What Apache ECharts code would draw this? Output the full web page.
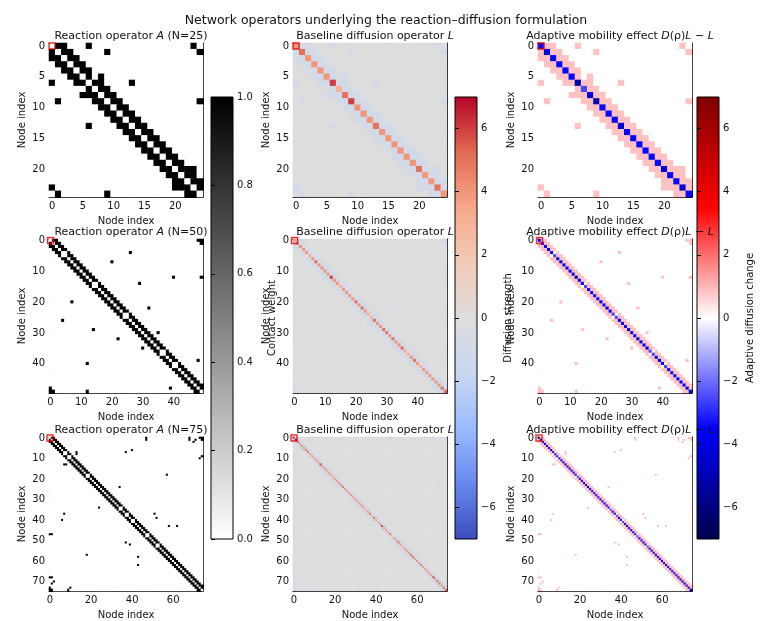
<!DOCTYPE html>
<html lang="en">
<head>
<meta charset="UTF-8">
<title>Network operators</title>
<script src="https://cdn.jsdelivr.net/npm/echarts@6/dist/echarts.min.js"></script>
<style>html,body{margin:0;padding:0;background:#fff}</style>
</head>
<body>
<div id="main" style="width:761px;height:621px;"></div>
<script>
// ---- data ----
const sizes = [25, 50, 75];
const ringOffsets = [1, 2];              // ring lattice neighbours
const extraEdges25 = [[0, 6], [1, 9], [9, 24], [6, 13], [5, 8], [20, 23]];
const removedEdges25 = [[0, 24], [5, 7]];
const extraEdges50 = [[4, 26], [7, 20], [14, 29], [12, 40], [12, 49], [22, 32], [30, 35], [39, 48]];
const removedEdges50 = [[4, 5], [14, 15], [24, 25], [36, 37], [40, 41]];
const extraEdges75 = [[0, 47], [0, 68], [1, 71], [7, 37], [6, 40], [7, 13], [9, 74], [8, 13], [18, 57],
    [24, 34], [37, 51], [39, 52], [43, 58], [1, 47], [43, 62], [1, 68], [2, 70], [10, 73]];
const removedEdges75 = [[7, 8], [9, 10], [18, 19], [34, 35], [37, 38], [40, 41], [47, 48], [52, 53]];
const mobilityDrop = 0.85;               // D(rho)-1 ~ -0.85
const grayTicks = [0, 0.2, 0.4, 0.6, 0.8, 1.0];
const diffTicks = [-6, -4, -2, 0, 2, 4, 6];
const colorMax = 7;

const extras = [extraEdges25, extraEdges50, extraEdges75];
const removed = [removedEdges25, removedEdges50, removedEdges75];

// colormaps
const grayCmap = ['#ffffff', '#000000'];
const coolwarm = ['#3b4cc0', '#6788ee', '#9abbff', '#c9d7f0', '#dddddd', '#f2cbb7', '#f7a889', '#e26952', '#b40426'];
const seismic = ['#00004c', '#0000ff', '#ffffff', '#ff0000', '#7f0000'];

function buildAdj(k) {
    const n = sizes[k];
    const A = [];
    for (let i = 0; i < n; i++) A.push(new Array(n).fill(0));
    const set = (i, j, v) => { A[i][j] = v; A[j][i] = v; };
    for (let i = 0; i < n; i++) ringOffsets.forEach(o => set(i, (i + o) % n, 1));
    removed[k].forEach(e => set(e[0], e[1], 0));
    extras[k].forEach(e => set(e[0], e[1], 1));
    return A;
}

const colLeft = [49, 293, 538], rowTop = [43, 239, 437], side = 154;
const font = 'DejaVu Sans';
const grids = [], xAxes = [], yAxes = [], series = [], titles = [];
const seriesGray = [], seriesCool = [], seriesSeis = [];
const markers = [];

function italic(s) { return '{i|' + s + '}'; }
const titleRich = {
    n: {fontFamily: font, fontSize: 11, color: '#111', fontWeight: 'normal'},
    i: {fontFamily: font, fontSize: 11, color: '#111', fontWeight: 'normal', fontStyle: 'italic'}
};

sizes.forEach((n, r) => {
    const A = buildAdj(r);
    const deg = A.map(row => row.reduce((s, v) => s + v, 0));
    const cats = [];
    for (let i = 0; i < n; i++) cats.push(String(i));
    const xStep = n === 25 ? 5 : (n === 50 ? 10 : 20);
    const yStep = n === 25 ? 5 : 10;
    const mats = [
        (i, j) => A[i][j],
        (i, j) => (i === j ? deg[i] : -A[i][j]),
        (i, j) => -mobilityDrop * (i === j ? deg[i] : -A[i][j])
    ];
    const names = [
        '{n|Reaction operator }' + italic('A') + '{n| (N=' + n + ')}',
        '{n|Baseline diffusion operator }' + italic('L'),
        '{n|Adaptive mobility effect }' + italic('D') + '{n|(ρ)}' + italic('L') + '{n| − }' + italic('L')
    ];
    for (let c = 0; c < 3; c++) {
        const g = grids.length;
        grids.push({left: colLeft[c], top: rowTop[r], width: side, height: side});
        titles.push({
            text: names[c], left: colLeft[c] + side / 2, top: rowTop[r] - 17, textAlign: 'center',
            textStyle: {fontWeight: 'normal', rich: titleRich}
        });
        const axisCommon = {
            type: 'category', data: cats, gridIndex: g,
            axisLine: {lineStyle: {color: '#000', width: 1}},
            splitLine: {show: false}
        };
        xAxes.push(Object.assign({}, axisCommon, {
            position: 'bottom',
            name: 'Node index', nameLocation: 'middle', nameGap: 19,
            nameTextStyle: {fontFamily: font, fontSize: 10, color: '#111'},
            axisTick: {alignWithLabel: true, length: 3, interval: i => i % xStep === 0, lineStyle: {color: '#000'}},
            axisLabel: {interval: i => i % xStep === 0, fontFamily: font, fontSize: 10, color: '#111', margin: 4}
        }));
        xAxes.push(Object.assign({}, axisCommon, {
            position: 'top', axisTick: {show: false}, axisLabel: {show: false}
        }));
        yAxes.push(Object.assign({}, axisCommon, {
            position: 'left', inverse: true,
            name: 'Node index', nameLocation: 'middle', nameGap: 22,
            nameTextStyle: {fontFamily: font, fontSize: 10, color: '#111'},
            axisTick: {alignWithLabel: true, length: 3, interval: i => i % yStep === 0, lineStyle: {color: '#000'}},
            axisLabel: {interval: i => i % yStep === 0, fontFamily: font, fontSize: 10, color: '#111', margin: 4}
        }));
        yAxes.push(Object.assign({}, axisCommon, {
            position: 'right', inverse: true, axisTick: {show: false}, axisLabel: {show: false}
        }));
        const data = [];
        for (let i = 0; i < n; i++)
            for (let j = 0; j < n; j++) data.push([j, i, mats[c](i, j)]);
        [seriesGray, seriesCool, seriesSeis][c].push(series.length);
        series.push({
            type: 'heatmap', xAxisIndex: 2 * g, yAxisIndex: 2 * g, data: data,
            progressive: 0, silent: true
        });
        markers.push({
            type: 'scatter', xAxisIndex: 2 * g, yAxisIndex: 2 * g, data: [[0, 0]],
            symbol: 'rect', symbolSize: 6, silent: true, z: 5,
            itemStyle: {color: 'rgba(0,0,0,0)', borderColor: '#e00000', borderWidth: 1.5}
        });
    }
});

// colorbars
const barLeft = [211, 455, 697];
const barSpecs = [
    {cmap: grayCmap, min: 0, max: 1, ticks: grayTicks, name: 'Contact weight', fmt: v => v.toFixed(1)},
    {cmap: coolwarm, min: -colorMax, max: colorMax, ticks: diffTicks, name: 'Diffusion strength', fmt: v => String(v).replace('-', '−')},
    {cmap: seismic, min: -colorMax, max: colorMax, ticks: diffTicks, name: 'Adaptive diffusion change', fmt: v => String(v).replace('-', '−')}
];
barSpecs.forEach((b, k) => {
    const g = grids.length;
    const stops = b.cmap.map((col, i) => ({offset: 1 - i / (b.cmap.length - 1), color: col}));
    grids.push({
        left: barLeft[k], top: 97, width: 22, height: 442, show: true,
        borderColor: '#000', borderWidth: 1,
        backgroundColor: new echarts.graphic.LinearGradient(0, 0, 0, 1, stops.reverse())
    });
    xAxes.push({type: 'value', gridIndex: g, show: false, min: 0, max: 1});
    xAxes.push({type: 'value', gridIndex: g, show: false, min: 0, max: 1});
    yAxes.push({
        type: 'value', gridIndex: g, position: 'right', min: b.min, max: b.max,
        name: b.name, nameLocation: 'middle', nameGap: k === 0 ? 34 : 26,
        nameTextStyle: {fontFamily: font, fontSize: 10, color: '#111'},
        axisLine: {show: false}, splitLine: {show: false},
        axisTick: {show: true, length: 4, customValues: b.ticks, lineStyle: {color: '#000'}},
        axisLabel: {customValues: b.ticks, formatter: b.fmt, fontFamily: font, fontSize: 10, color: '#111', margin: 4}
    });
    yAxes.push({type: 'value', gridIndex: g, show: false, min: b.min, max: b.max});
});

titles.push({
    text: 'Network operators underlying the reaction–diffusion formulation',
    left: 381, top: 9, textAlign: 'center',
    textStyle: {fontFamily: font, fontSize: 12.5, fontWeight: 'normal', color: '#111'}
});

const chart = echarts.init(document.getElementById('main'), null, {renderer: 'canvas'});
chart.setOption({
    backgroundColor: '#fff',
    animation: false,
    title: titles,
    grid: grids,
    xAxis: xAxes,
    yAxis: yAxes,
    visualMap: [
        {show: false, type: 'continuous', min: 0, max: 1, seriesIndex: seriesGray, inRange: {color: grayCmap}},
        {show: false, type: 'continuous', min: -colorMax, max: colorMax, seriesIndex: seriesCool, inRange: {color: coolwarm}},
        {show: false, type: 'continuous', min: -colorMax, max: colorMax, seriesIndex: seriesSeis, inRange: {color: seismic}}
    ],
    series: series.concat(markers)
});
</script>
</body>
</html>
